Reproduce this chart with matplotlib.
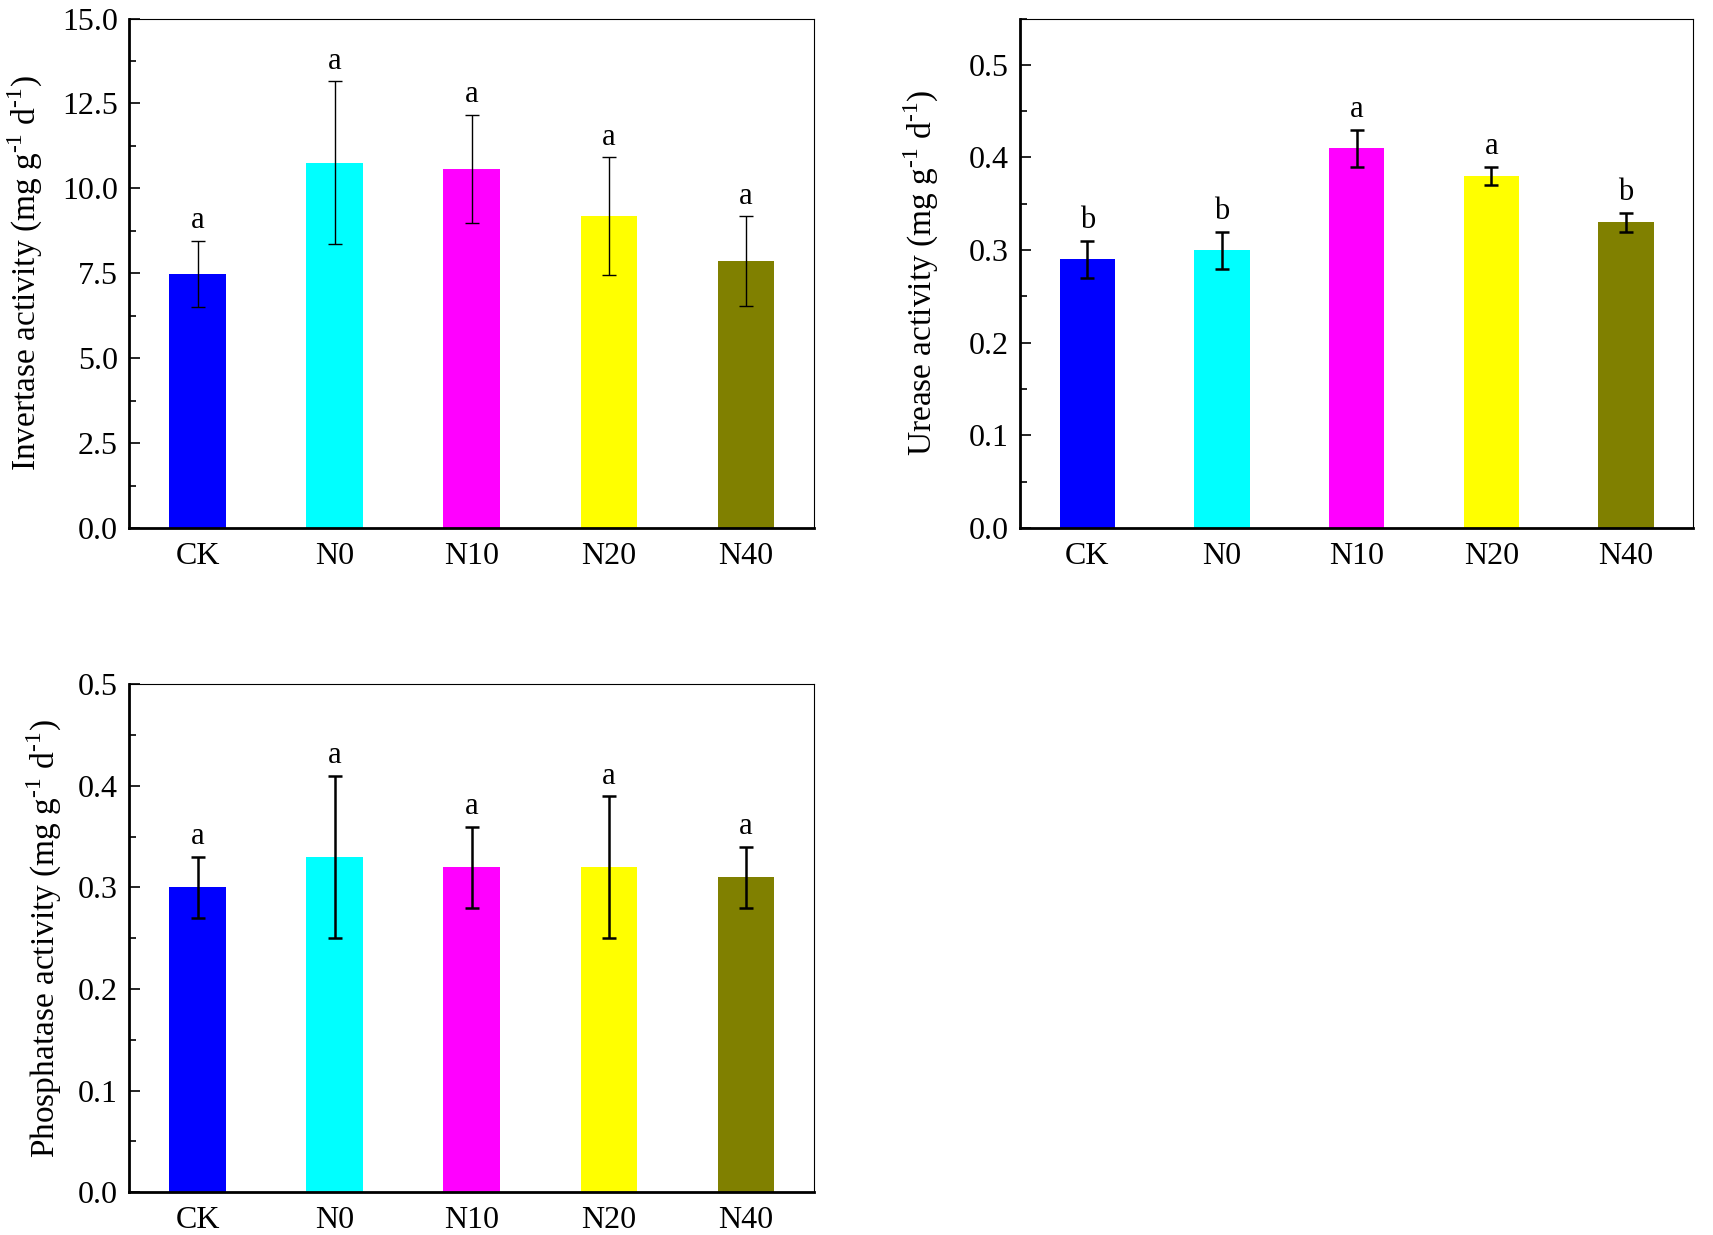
import matplotlib
matplotlib.use('Agg')
import matplotlib.pyplot as plt
from matplotlib.ticker import MultipleLocator

plt.rcParams['font.family'] = ['Liberation Serif', 'DejaVu Serif']
plt.rcParams['mathtext.fontset'] = 'custom'
plt.rcParams['mathtext.rm'] = 'Liberation Serif'

# Treatments and colours
treatments = ['CK', 'N0', 'N10', 'N20', 'N40']
bar_colors = ['#0000FF', '#00FFFF', '#FF00FF', '#FFFF00', '#808000']

# Invertase activity
invertase_mean = [7.49, 10.76, 10.57, 9.18, 7.86]
invertase_err = [0.97, 2.39, 1.60, 1.74, 1.32]
invertase_sig = ['a', 'a', 'a', 'a', 'a']

# Urease activity
urease_mean = [0.29, 0.30, 0.41, 0.38, 0.33]
urease_err = [0.02, 0.02, 0.02, 0.01, 0.01]
urease_sig = ['b', 'b', 'a', 'a', 'b']

# Phosphatase activity
phosphatase_mean = [0.30, 0.33, 0.32, 0.32, 0.31]
phosphatase_err = [0.03, 0.08, 0.04, 0.07, 0.03]
phosphatase_sig = ['a', 'a', 'a', 'a', 'a']

fig = plt.figure(figsize=(17.13, 12.35), dpi=100)
ax1 = fig.add_axes([0.0753, 0.5725, 0.400, 0.4125])
ax2 = fig.add_axes([0.5955, 0.5725, 0.393, 0.4125])
ax3 = fig.add_axes([0.0753, 0.0348, 0.400, 0.411])


def draw_panel(ax, means, errs, sig, ylim, major, minor, ylabel, err_lw, lpad):
    x = range(len(treatments))
    ax.bar(x, means, width=0.41, color=bar_colors)
    ax.errorbar(x, means, yerr=errs, fmt='none', ecolor='black',
                elinewidth=err_lw, capsize=5, capthick=err_lw)
    for xi, m, e, s in zip(x, means, errs, sig):
        ax.annotate(s, (xi, m + e), xytext=(0, 4), textcoords='offset points',
                    ha='center', va='bottom', fontsize=22)
    ax.set_xlim(-0.5, 4.5)
    ax.set_ylim(*ylim)
    ax.set_xticks(list(x))
    ax.set_xticklabels(treatments, fontsize=23)
    ax.yaxis.set_major_locator(MultipleLocator(major))
    ax.yaxis.set_minor_locator(MultipleLocator(minor))
    ax.yaxis.set_major_formatter(plt.FormatStrFormatter('%.1f'))
    ax.tick_params(axis='y', which='major', direction='in', length=8, width=1.2,
                   labelsize=23, pad=8)
    ax.tick_params(axis='y', which='minor', direction='in', length=5, width=1.2)
    ax.tick_params(axis='x', length=0, pad=10)
    ax.set_ylabel(ylabel, fontsize=24, labelpad=lpad)
    ax.spines['left'].set_linewidth(2)
    ax.spines['bottom'].set_linewidth(2)
    ax.spines['top'].set_linewidth(0.8)
    ax.spines['right'].set_linewidth(0.8)


draw_panel(ax1, invertase_mean, invertase_err, invertase_sig, (0, 15), 2.5, 1.25,
           r'Invertase activity (mg g$^{\text{-}1}$ d$^{\text{-}1}$)', 1.0, 12)
draw_panel(ax2, urease_mean, urease_err, urease_sig, (0, 0.55), 0.1, 0.05,
           r'Urease activity (mg g$^{\text{-}1}$ d$^{\text{-}1}$)', 1.8, 20)
draw_panel(ax3, phosphatase_mean, phosphatase_err, phosphatase_sig, (0, 0.5), 0.1, 0.05,
           r'Phosphatase activity (mg g$^{\text{-}1}$ d$^{\text{-}1}$)', 1.8, 10)

fig.savefig('out.png', dpi=100)
